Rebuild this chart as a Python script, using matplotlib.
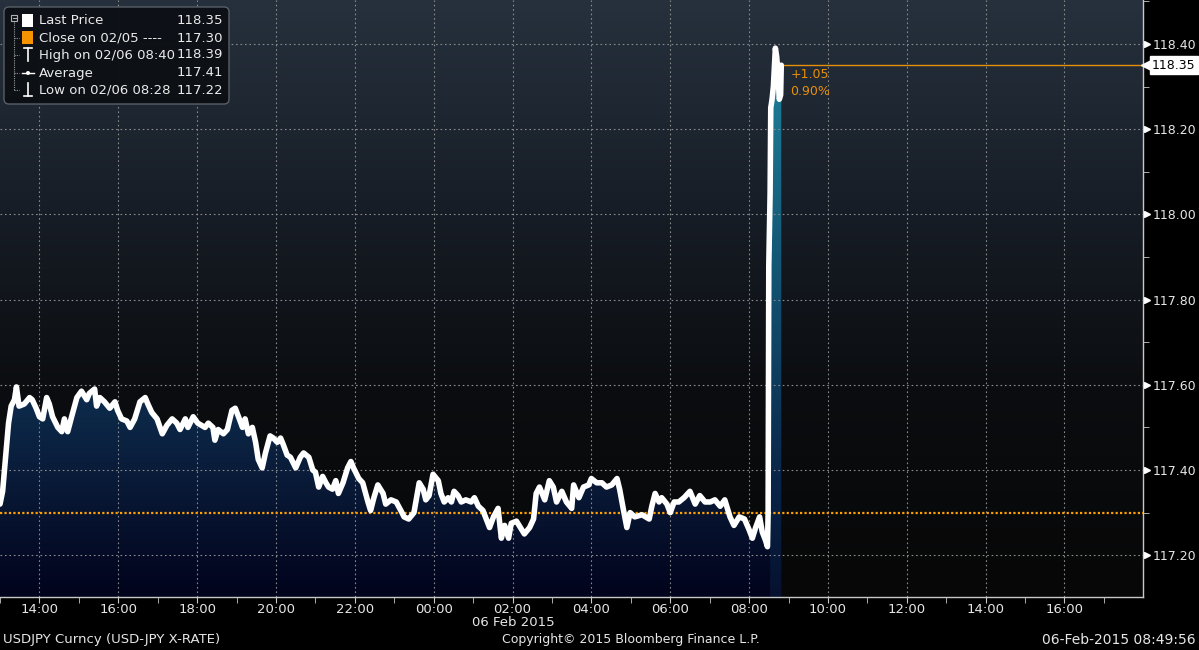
import numpy as np
import pandas as pd
import matplotlib.pyplot as plt
import matplotlib.dates as mdates
import matplotlib.transforms as mtransforms
from matplotlib.colors import LinearSegmentedColormap
from matplotlib.patches import Rectangle, FancyBboxPatch, Circle
from matplotlib.ticker import MultipleLocator, FormatStrFormatter

# USDJPY intraday, minutes after 05 Feb 2015 13:00
start = pd.Timestamp("2015-02-05 13:00")
minutes = [0, 4, 8, 13, 17, 22, 25, 29, 37, 45, 49, 55, 60, 65, 71, 75, 80, 88, 94, 98,
           103, 109, 117, 124, 132, 136, 144, 147, 152, 159, 167, 175, 179, 185, 193, 198, 205, 213, 221, 225,
           231, 239, 247, 254, 262, 269, 274, 282, 286, 294, 301,
           312, 317, 324, 327, 332, 340, 346, 353, 358, 363, 369, 373, 378, 384, 389, 393, 399, 404, 411, 416,
           422, 427, 431, 437, 442, 450, 457, 462, 470, 476, 480, 485, 491, 496, 500, 506, 511, 515, 522, 529,
           534, 538, 546, 552, 560, 564, 569, 575, 583, 587, 595, 603, 610,
           615, 622, 630, 638, 644, 648, 653, 659, 667, 671, 676, 682, 687, 691, 697, 702, 709, 717, 722, 728,
           735, 740, 745, 751, 758, 763, 768, 774, 778, 786, 790, 798, 806, 812, 816, 821, 829, 836, 842, 847,
           855, 862, 870, 873, 881, 888, 896, 900, 908, 916,
           923, 931, 939, 943, 949, 954, 959, 966, 977, 988, 992, 997, 1003, 1007, 1015, 1020, 1026, 1033, 1041, 1050,
           1058, 1065, 1073, 1081, 1088, 1096, 1103, 1111, 1117, 1125, 1133, 1140, 1145, 1150, 1156, 1160, 1165, 1168,
           1169, 1170, 1172, 1173, 1175, 1177, 1180, 1182, 1184, 1186, 1188, 1189]
prices = [117.32, 117.35, 117.42, 117.51, 117.55, 117.565, 117.595, 117.55, 117.555, 117.57,
          117.565, 117.545, 117.525, 117.52, 117.57, 117.555, 117.525, 117.50, 117.49, 117.52,
          117.49, 117.525, 117.57, 117.585, 117.565, 117.58, 117.59, 117.55, 117.57, 117.56,
          117.545, 117.56, 117.54, 117.52, 117.515, 117.50, 117.52, 117.56, 117.57, 117.555,
          117.535, 117.52, 117.485, 117.505, 117.52, 117.51, 117.495, 117.52, 117.50, 117.525, 117.51,
          117.50, 117.51, 117.50, 117.47, 117.495, 117.485, 117.495, 117.54, 117.545, 117.525,
          117.50, 117.52, 117.485, 117.50, 117.465, 117.425, 117.405, 117.44, 117.48, 117.475,
          117.465, 117.475, 117.46, 117.435, 117.43, 117.405, 117.43, 117.44, 117.43, 117.40,
          117.395, 117.36, 117.385, 117.37, 117.36, 117.355, 117.375, 117.345, 117.37, 117.405,
          117.42, 117.405, 117.38, 117.37, 117.325, 117.305, 117.335, 117.365, 117.345, 117.32,
          117.33, 117.325, 117.305,
          117.29, 117.285, 117.30, 117.37, 117.355, 117.33, 117.34, 117.39, 117.375, 117.345,
          117.325, 117.335, 117.325, 117.35, 117.34, 117.325, 117.33, 117.325, 117.335, 117.315,
          117.305, 117.285, 117.265, 117.29, 117.31, 117.24, 117.27, 117.24, 117.275, 117.28,
          117.27, 117.25, 117.265, 117.285, 117.345, 117.36, 117.33, 117.375, 117.36, 117.325,
          117.35, 117.325, 117.31, 117.365, 117.335, 117.36, 117.365, 117.38, 117.37, 117.37,
          117.36, 117.365, 117.38, 117.355, 117.305, 117.265, 117.30, 117.29, 117.295, 117.285,
          117.315, 117.345, 117.325, 117.335, 117.32, 117.30, 117.325, 117.325, 117.335, 117.35,
          117.32, 117.34, 117.325, 117.325, 117.33, 117.315, 117.33, 117.29, 117.27, 117.29,
          117.285, 117.26, 117.24, 117.265, 117.29, 117.255, 117.235, 117.22,
          117.30, 117.88, 118.05, 118.25, 118.27, 118.30, 118.39, 118.37, 118.33, 118.27, 118.28, 118.35]

prev_close = 117.30
last_price = 118.35
high_price = 118.39
avg_price = 117.41
low_price = 117.22
change_txt = "+1.05"
change_pct = "0.90%"

legend_labels = ["Last Price", "Close on 02/05 ----", "High on 02/06 08:40", "Average", "Low on 02/06 08:28"]
legend_values = [last_price, prev_close, high_price, avg_price, low_price]

y_ticks = [117.20, 117.40, 117.60, 117.80, 118.00, 118.20, 118.40]
x_start = pd.Timestamp("2015-02-05 13:00")
x_end = pd.Timestamp("2015-02-06 17:59:30")
y_min, y_max = 117.102, 118.503
teal_from = pd.Timestamp("2015-02-06 08:32")

W, H = 1199, 650
fig = plt.figure(figsize=(W / 100, H / 100), dpi=100, facecolor="black")
ax = fig.add_axes([0, 53 / H, 1143 / W, 597 / H])
ax.set_facecolor("black")

times = start + pd.to_timedelta(minutes, unit="min")
t = mdates.date2num(times.to_pydatetime())
p = np.array(prices)
x0, x1 = mdates.date2num(x_start), mdates.date2num(x_end)

# background gradient
bg_cmap = LinearSegmentedColormap.from_list("bg", [(0, "#070707"), (0.35, "#0b0d10"), (0.7, "#19202a"), (1, "#26313d")])
grad = np.linspace(0, 1, 256).reshape(-1, 1)
ax.imshow(grad, extent=[x0, x1, y_min, y_max], origin="lower", aspect="auto", cmap=bg_cmap, zorder=0)

navy = LinearSegmentedColormap.from_list("navy", [(0, "#02031c"), (0.35, "#0e2d4e"), (1, "#1a4f7c")])
teal = LinearSegmentedColormap.from_list("teal", [(0, "#06112f"), (0.2, "#09264a"), (0.55, "#135574"),
                                                   (0.85, "#1d7a95"), (1, "#2290aa")])


def gradient_fill(xs, ys, cmap):
    poly = ax.fill_between(xs, ys, y_min, facecolor="none", edgecolor="none")
    im = ax.imshow(grad, extent=[x0, x1, y_min, y_max], origin="lower", aspect="auto", cmap=cmap, zorder=1)
    im.set_clip_path(poly.get_paths()[0], transform=ax.transData)


split = np.searchsorted(t, mdates.date2num(teal_from))
gradient_fill(t[:split + 1], p[:split + 1], navy)
gradient_fill(t[split:], p[split:], teal)

ax.set_xlim(x0, x1)
ax.set_ylim(y_min, y_max)
ax.xaxis_date()
ax.xaxis.set_major_locator(mdates.HourLocator(byhour=range(0, 24, 2)))
ax.xaxis.set_minor_locator(mdates.HourLocator())
ax.xaxis.set_major_formatter(mdates.DateFormatter("%H:%M"))
ax.tick_params(axis="x", which="both", direction="out", length=4, color="#c8c8c8",
               labelcolor="#e6e6e6", labelsize=9.5, pad=0)

ax.yaxis.tick_right()
ax.set_yticks(y_ticks)
ax.yaxis.set_minor_locator(MultipleLocator(0.1))
ax.yaxis.set_major_formatter(FormatStrFormatter("%.2f"))
ax.tick_params(axis="y", which="major", length=0, pad=7, labelcolor="#e6e6e6", labelsize=9)
ax.tick_params(axis="y", which="minor", length=4, color="#c8c8c8")

# dotted grid only at the labelled ticks
grid_kw = dict(color="#8a8a8a", linestyle=(0, (1.5, 2.5)), linewidth=0.8, zorder=2)
for xv in ax.xaxis.get_majorticklocs():
    ax.axvline(xv, **grid_kw)
for yv in y_ticks:
    ax.axhline(yv, **grid_kw)

ax.plot(t, p, color="white", lw=4.0, zorder=5, solid_joinstyle="round", solid_capstyle="round")
ax.axhline(prev_close, color="#ffa000", lw=1.6, linestyle=(0, (1, 1)), zorder=4)
ax.hlines(last_price, t[-1], x1, color="#e8900a", lw=1.0, zorder=4)

ax.annotate(change_txt, xy=(t[-1], last_price), xytext=(9, -9), textcoords="offset pixels",
            color="#e8900a", fontsize=9, va="center", ha="left")
ax.annotate(change_pct, xy=(t[-1], last_price), xytext=(9, -26), textcoords="offset pixels",
            color="#e8900a", fontsize=9, va="center", ha="left")

for s in ["top", "left"]:
    ax.spines[s].set_visible(False)
for s in ["right", "bottom"]:
    ax.spines[s].set_color("#c8c8c8")
    ax.spines[s].set_linewidth(1.0)

tri = ax.get_yaxis_transform() + mtransforms.ScaledTranslation(4 / 100, 0, fig.dpi_scale_trans)
ax.plot([1.0] * len(y_ticks), y_ticks, transform=tri, marker=">", ms=5, color="white",
        ls="none", clip_on=False, zorder=6)

# last price tag on the axis
ax.annotate(f"{last_price:.2f}", xy=(1.0, last_price), xycoords=("axes fraction", "data"),
            xytext=(9, 0), textcoords="offset pixels", ha="left", va="center", fontsize=9, color="black",
            bbox=dict(boxstyle="square,pad=0.2", fc="white", ec="white"), annotation_clip=False)
tag_tri = ax.get_yaxis_transform() + mtransforms.ScaledTranslation(3 / 100, 0, fig.dpi_scale_trans)
ax.plot([1.0], [last_price], transform=tag_tri, marker="<", ms=7, color="white", ls="none",
        clip_on=False, zorder=6)

# overlay in pixel coordinates for legend and footer
lax = fig.add_axes([0, 0, 1, 1])
lax.set_xlim(0, W)
lax.set_ylim(H, 0)
lax.axis("off")
lax.patch.set_alpha(0)

lax.add_patch(FancyBboxPatch((4, 7), 225, 97, boxstyle="round,pad=0,rounding_size=5",
                             fc="#0c0f14", ec="#5c626a", lw=1.0, alpha=0.95))
rows = [21, 38, 55, 73, 90]
for lab, val, yy in zip(legend_labels, legend_values, rows):
    lax.text(39, yy, lab, color="#eaeaea", fontsize=9.5, va="center", ha="left")
    lax.text(223, yy, f"{val:.2f}", color="#eaeaea", fontsize=9.5, va="center", ha="right")

# tree icon
lax.add_patch(Rectangle((11, 15), 6, 6, fc="none", ec="#b0b0b0", lw=0.8))
lax.plot([12.5, 15.5], [18, 18], color="#b0b0b0", lw=0.8)
lax.plot([14, 14], [22, 90], color="#9a9a9a", lw=0.8, linestyle=(0, (1, 1)))
for yy in rows[1:]:
    lax.plot([14, 19], [yy, yy], color="#9a9a9a", lw=0.8, linestyle=(0, (1, 1)))

lax.add_patch(Rectangle((22, 14), 11, 13, fc="white", ec="none"))
lax.add_patch(Rectangle((22, 31), 11, 13, fc="#f59300", ec="none"))
lax.plot([24, 32], [48, 48], color="white", lw=1.2)
lax.plot([28, 28], [48, 61], color="white", lw=1.2)
lax.plot([22, 34], [73, 73], color="white", lw=1.0)
lax.add_patch(Circle((28, 73), 2, fc="white", ec="none"))
lax.plot([28, 28], [83, 96], color="white", lw=1.2)
lax.plot([24, 32], [96, 96], color="white", lw=1.2)

lax.text(513, 622, "06 Feb 2015", color="#e6e6e6", fontsize=9.5, ha="center", va="center")
lax.text(3, 640, "USDJPY Curncy (USD-JPY X-RATE)", color="#e6e6e6", fontsize=9.5, ha="left", va="center")
lax.text(631, 640, "Copyright\u00a9 2015 Bloomberg Finance L.P.", color="#e6e6e6", fontsize=9,
         ha="center", va="center")
lax.text(1196, 640, "06-Feb-2015 08:49:56", color="#e6e6e6", fontsize=10, ha="right", va="center")

fig.savefig("out.png", dpi=100, facecolor="black")
